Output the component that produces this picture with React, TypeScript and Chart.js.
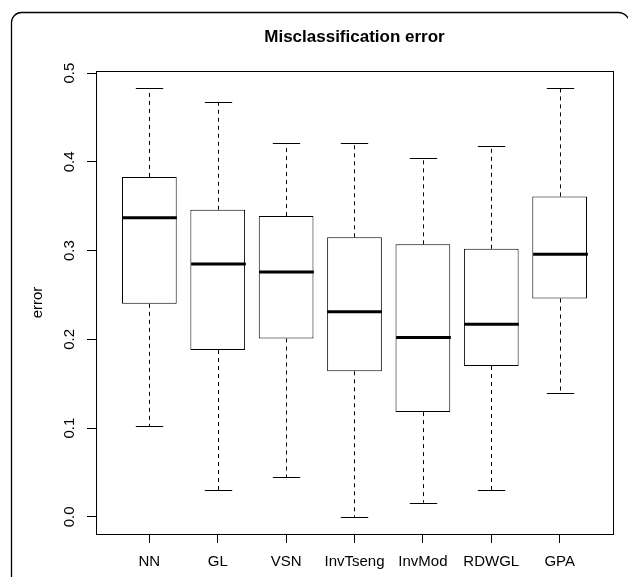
import React, { useEffect, useRef } from "react";
import { Chart, registerables } from "chart.js";

Chart.register(...registerables);

const categories = ["NN", "GL", "VSN", "InvTseng", "InvMod", "RDWGL", "GPA"];
const whiskerLow = [0.102, 0.030, 0.045, 0.000, 0.016, 0.030, 0.140];
const quartile1 = [0.240, 0.188, 0.201, 0.164, 0.118, 0.170, 0.246];
const medians = [0.337, 0.285, 0.276, 0.231, 0.202, 0.217, 0.296];
const quartile3 = [0.383, 0.346, 0.339, 0.315, 0.307, 0.302, 0.361];
const whiskerHigh = [0.483, 0.467, 0.421, 0.421, 0.404, 0.418, 0.483];
const yTicks = [0, 0.1, 0.2, 0.3, 0.4, 0.5];
const yTickLabels = ["0.0", "0.1", "0.2", "0.3", "0.4", "0.5"];
const titleText = "Misclassification error";
const yAxisLabel = "error";

const FONT = '"Liberation Sans", Arial, Helvetica, sans-serif';

const boxPlugin = {
  id: "boxExtras",
  afterDatasetsDraw(chart: any) {
    const ctx = chart.ctx;
    const xs = chart.scales.x;
    const ys = chart.scales.y;
    const unit = xs.getPixelForValue(2) - xs.getPixelForValue(1);
    ctx.save();
    ctx.strokeStyle = "#000";
    categories.forEach((_, i) => {
      const x = Math.round(xs.getPixelForValue(i + 1)) + 0.5;
      const yLo = ys.getPixelForValue(whiskerLow[i]);
      const yQ1 = ys.getPixelForValue(quartile1[i]);
      const yMed = ys.getPixelForValue(medians[i]);
      const yQ3 = ys.getPixelForValue(quartile3[i]);
      const yHi = ys.getPixelForValue(whiskerHigh[i]);
      // whiskers
      ctx.lineWidth = 1;
      ctx.setLineDash([4, 4]);
      ctx.beginPath();
      ctx.moveTo(x, yQ3);
      ctx.lineTo(x, yHi);
      ctx.moveTo(x, yQ1);
      ctx.lineTo(x, yLo);
      ctx.stroke();
      ctx.setLineDash([]);
      // caps
      const cap = unit * 0.2;
      ctx.beginPath();
      ctx.moveTo(x - cap, Math.round(yHi) + 0.5);
      ctx.lineTo(x + cap, Math.round(yHi) + 0.5);
      ctx.moveTo(x - cap, Math.round(yLo) + 0.5);
      ctx.lineTo(x + cap, Math.round(yLo) + 0.5);
      ctx.stroke();
      // median
      const half = unit * 0.4;
      ctx.lineWidth = 3;
      ctx.beginPath();
      ctx.moveTo(x - half, yMed);
      ctx.lineTo(x + half, yMed);
      ctx.stroke();
    });
    ctx.restore();
  },
  afterDraw(chart: any) {
    const ctx = chart.ctx;
    const a = chart.chartArea;
    const ys = chart.scales.y;
    ctx.save();
    // plot box
    ctx.strokeStyle = "#000";
    ctx.lineWidth = 1;
    ctx.strokeRect(Math.round(a.left) + 0.5, Math.round(a.top) + 0.5, Math.round(a.right - a.left), Math.round(a.bottom - a.top));
    // title
    ctx.fillStyle = "#000";
    ctx.font = `bold 17px ${FONT}`;
    ctx.textAlign = "center";
    ctx.textBaseline = "alphabetic";
    ctx.fillText(titleText, (a.left + a.right) / 2, 41.5);
    // y tick labels (rotated, parallel to the axis)
    ctx.font = `15px ${FONT}`;
    yTicks.forEach((v, i) => {
      const y = ys.getPixelForValue(v);
      ctx.save();
      ctx.translate(74, y);
      ctx.rotate(-Math.PI / 2);
      ctx.fillText(yTickLabels[i], 0, 0);
      ctx.restore();
    });
    // y axis label
    ctx.save();
    ctx.translate(42, (a.top + a.bottom) / 2);
    ctx.rotate(-Math.PI / 2);
    ctx.fillText(yAxisLabel, 0, 0);
    ctx.restore();
    // outer frame
    ctx.lineWidth = 1.3;
    ctx.beginPath();
    ctx.moveTo(11.5, 580);
    ctx.lineTo(11.5, 23);
    ctx.arcTo(11.5, 12.5, 22, 12.5, 10);
    ctx.lineTo(618, 12.5);
    ctx.arcTo(630, 12.5, 630, 24, 12);
    ctx.stroke();
    ctx.restore();
  },
};

export default function App() {
  const ref = useRef<HTMLCanvasElement | null>(null);
  useEffect(() => {
    if (!ref.current) return;
    const lo = Math.min(...whiskerLow);
    const hi = Math.max(...whiskerHigh);
    const pad = (hi - lo) * 0.04;
    const chart = new Chart(ref.current, {
      type: "bar",
      data: {
        datasets: [
          {
            data: categories.map((_, i) => ({ x: i + 1, y: [quartile1[i], quartile3[i]] })) as any,
            backgroundColor: "#ffffff",
            borderColor: "#000000",
            borderWidth: 1,
            borderSkipped: false,
            categoryPercentage: 1,
            barPercentage: 0.8,
          },
        ],
      },
      options: {
        animation: false,
        responsive: false,
        maintainAspectRatio: false,
        layout: { padding: { top: 71, right: 15, left: 0, bottom: 0 } },
        plugins: { legend: { display: false }, tooltip: { enabled: false }, title: { display: false } },
        scales: {
          x: {
            type: "linear",
            min: 0.22,
            max: 7.78,
            offset: false,
            border: { display: false },
            grid: { display: true, offset: false, drawOnChartArea: false, drawTicks: true, tickLength: 9, color: "#000", lineWidth: 1 },
            ticks: {
              autoSkip: false,
              maxRotation: 0,
              minRotation: 0,
              padding: 10,
              color: "#000",
              font: { family: FONT, size: 15 },
              callback: (v: any) => categories[Math.round(Number(v)) - 1] ?? "",
            },
            afterBuildTicks: (s: any) => {
              s.ticks = categories.map((_, i) => ({ value: i + 1 }));
            },
            afterFit: (s: any) => {
              s.height = 43;
            },
          },
          y: {
            type: "linear",
            min: lo - pad,
            max: hi + pad,
            border: { display: false },
            grid: { display: true, drawOnChartArea: false, drawTicks: true, tickLength: 9, color: "#000", lineWidth: 1 },
            ticks: { display: false },
            afterBuildTicks: (s: any) => {
              s.ticks = yTicks.map((v) => ({ value: v }));
            },
            afterFit: (s: any) => {
              s.width = 96;
            },
          },
        },
      },
      plugins: [boxPlugin],
    } as any);
    return () => chart.destroy();
  }, []);
  return (
    <div style={{ position: "absolute", left: 0, top: 0, width: 628, height: 577, background: "#fff" }}>
      <canvas ref={ref} width={628} height={577} style={{ display: "block" }} />
    </div>
  );
}
